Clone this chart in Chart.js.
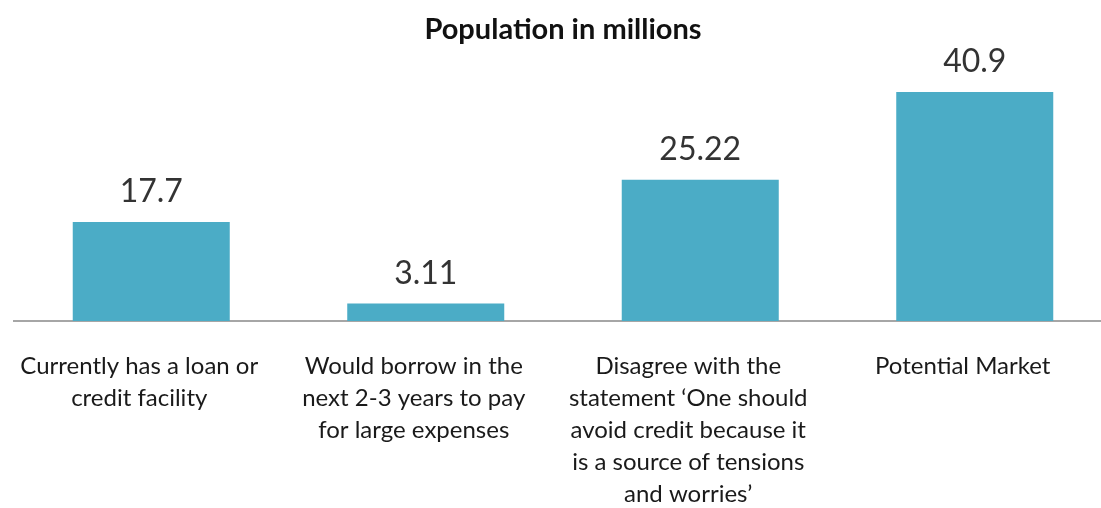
<!DOCTYPE html>
<html>
<head>
<meta charset="utf-8">
<script src="https://cdn.jsdelivr.net/npm/chart.js@4/dist/chart.umd.min.js"></script>
<style>
    html, body { margin: 0; padding: 0; background: #fff; overflow: hidden; }
    #wrap { position: absolute; left: 0; top: 0; width: 1112px; height: 508px; }
</style>
</head>
<body>
<div id="wrap"><canvas id="population-canvas"></canvas></div>
<script>
const chartTitle = "Population in millions";

const categories = [
    ["Currently has a loan or", "credit facility"],
    ["Would borrow in the", "next 2-3 years to pay", "for large expenses"],
    ["Disagree with the", "statement \u2018One should", "avoid credit because it", "is a source of tensions", "and worries\u2019"],
    ["Potential Market"],
];

const populationMillions = [17.7, 3.11, 25.22, 40.9];

const valueLabels = ["17.7", "3.11", "25.22", "40.9"];

const barColor = "#4BACC6";

// draws the numbers above each bar
const barValuesPlugin = {
    id: "barValues",
    afterDatasetsDraw(chart) {
        const ctx = chart.ctx;
        const meta = chart.getDatasetMeta(0);
        ctx.save();
        ctx.font = "32px Lato";
        ctx.fillStyle = "#333333";
        ctx.textAlign = "center";
        ctx.textBaseline = "alphabetic";
        meta.data.forEach((bar, i) => {
            ctx.fillText(valueLabels[i], bar.x, bar.y - 20);
        });
        ctx.restore();
    }
};

const canvas = document.querySelector("#population-canvas");

new Chart(canvas, {
    type: "bar",
    data: {
        labels: categories,
        datasets: [{
            label: "Population",
            data: populationMillions,
            backgroundColor: barColor,
            borderWidth: 0,
            categoryPercentage: 1,
            barPercentage: 0.572,
        }]
    },
    options: {
        responsive: true,
        maintainAspectRatio: false,
        animation: false,
        layout: { padding: { left: 14, right: 0, top: 0, bottom: 0 } },
        plugins: {
            legend: { display: false },
            tooltip: { enabled: false },
            title: {
                display: true,
                text: chartTitle,
                color: "#111111",
                font: { family: "Lato", size: 29, weight: "bold", lineHeight: 1.2 },
                padding: { top: 12.6, bottom: 21.6 },
            },
        },
        scales: {
            x: {
                grid: { display: false, drawTicks: false },
                border: { display: true, color: "#a6a6a6", width: 2 },
                ticks: {
                    color: "#1a1a1a",
                    font: { family: "Lato", size: 24, lineHeight: 32 / 24 },
                    padding: 29,
                    labelOffset: -12,
                    autoSkip: false,
                    maxRotation: 0,
                    minRotation: 0,
                },
                afterFit(scale) {
                    scale.height = 187;
                },
            },
            y: {
                display: false,
                min: 0,
                max: 45,
            }
        }
    },
    plugins: [barValuesPlugin]
});
</script>
</body>
</html>
